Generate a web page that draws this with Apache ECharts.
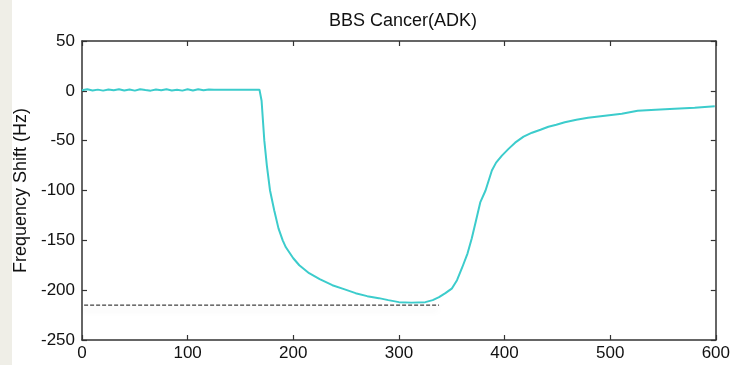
<!DOCTYPE html>
<html>
<head>
<meta charset="utf-8">
<script src="https://cdn.jsdelivr.net/npm/echarts@6/dist/echarts.min.js"></script>
<style>
	html, body { margin: 0; padding: 0; background: #fff; }
	#strip { position: absolute; left: 0; top: 0; width: 12px; height: 365px; background: #efeee7; }
	#chart { width: 733px; height: 365px; }
</style>
</head>
<body>
<div id="strip"></div>
<div id="chart"></div>
<script>
// time axis (s) and frequency shift (Hz)
var times = [0, 5, 10, 15, 20, 25, 30, 35, 40, 45, 50, 55, 60, 65, 70, 75, 80, 85, 90, 95, 100, 105, 110, 115, 120, 125,
	135, 150, 168, 170, 172.6, 175, 178, 182, 186, 190, 193, 200, 205.7, 215, 225, 237, 248, 259, 270, 281, 290, 300,
	312, 325, 332, 338, 344, 350, 355, 360, 365, 369, 373, 377, 382, 388, 392, 397.5, 404, 410, 418, 426, 434, 441.5,
	449, 457, 468, 479, 495, 511, 526, 543, 561, 580, 599]
var shifts = [0.5, 1.5, 0.3, 1.2, 0.2, 1.4, 0.6, 1.5, 0.4, 1.3, 0.2, 1.6, 0.8, 0.2, 1.4, 0.5, 1.5, 0.3, 1.1, 0.2, 1.6, 0.4, 1.5, 0.6, 1.3, 1.0,
	1.2, 1.2, 1.2, -10, -50, -75, -100, -120, -138, -150, -157, -168, -175, -183, -189, -195, -199, -203, -206, -208, -210, -212,
	-212.5, -212, -210, -207, -203, -198.5, -190, -177, -163, -148, -130, -112, -100, -80, -72, -65, -58, -52, -46, -42, -39, -36,
	-34, -31.5, -29, -27, -25, -23, -20, -19, -18, -17, -15.5]
var baseline = [[2, -215], [338, -215]]
var title = 'BBS Cancer(ADK)'
var yName = 'Frequency Shift (Hz)'

var points = times.map(function(t, i) { return [t, shifts[i]] })
var font = '"Liberation Sans", Arial, sans-serif'
var axisColor = '#333'

function frame(extra) { // shared style for the box axes
	var ax = {
		type: 'value',
		axisLine: { show: true, onZero: false, lineStyle: { color: axisColor, width: 1.5 } },
		axisTick: { inside: true, length: 5, lineStyle: { color: axisColor, width: 1.2 } },
		splitLine: { show: false }
	}
	for (var k in extra) ax[k] = extra[k]
	return ax
}

var chart = echarts.init(document.getElementById('chart'))
chart.setOption({
	animation: false,
	title: {
		text: title,
		left: 398, top: 7, textAlign: 'center',
		textStyle: { fontFamily: font, fontSize: 18, fontWeight: 'normal', color: '#111' }
	},
	grid: { left: 82, right: 14, top: 41, bottom: 25 },
	xAxis: [
		frame({ min: 0, max: 600, interval: 100,
			axisLabel: { fontFamily: font, fontSize: 17, color: '#111', margin: 5 } }),
		frame({ position: 'top', min: 0, max: 600, interval: 100, axisLabel: { show: false } })
	],
	yAxis: [
		frame({ min: -250, max: 50, interval: 50,
			name: yName, nameLocation: 'middle', nameGap: 51,
			nameTextStyle: { fontFamily: font, fontSize: 18, color: '#111' },
			axisLabel: { fontFamily: font, fontSize: 17, color: '#111', margin: 7 } }),
		frame({ position: 'right', min: -250, max: 50, interval: 50, axisLabel: { show: false } })
	],
	series: [{
		type: 'line',
		data: baseline,
		symbol: 'none',
		lineStyle: { color: '#111', width: 1, type: [4, 2], shadowColor: 'rgba(0,0,0,0.18)', shadowBlur: 6, shadowOffsetY: 5 }
	}, {
		type: 'line',
		data: points,
		symbol: 'none',
		lineStyle: { color: '#3ccccc', width: 2 }
	}]
})
</script>
</body>
</html>
